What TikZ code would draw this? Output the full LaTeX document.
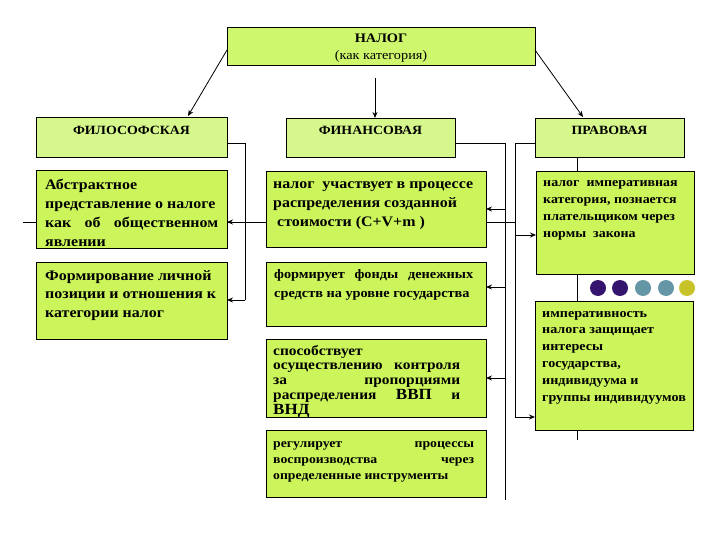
\documentclass[tikz,border=0pt]{standalone}
\usepackage{fontspec}
\setmainfont[FakeStretch=1.1]{Liberation Serif}
\usetikzlibrary{arrows.meta}
\definecolor{cfill}{RGB}{204,245,92}
\definecolor{hfill}{RGB}{214,247,140}
\definecolor{tfill}{RGB}{206,247,110}
\definecolor{dpurple}{RGB}{52,20,110}
\definecolor{dteal}{RGB}{100,150,165}
\definecolor{dyellow}{RGB}{200,195,40}
\begin{document}
\begin{tikzpicture}[x=1pt,y=-1pt,
  bx/.style={draw=black, line width=0.8pt, fill=cfill, anchor=north west, inner sep=0pt, outer sep=0pt},
  hb/.style={bx, fill=hfill},
  con/.style={line width=0.8pt},
  arr/.style={con, -{Stealth[length=6pt,width=5pt]}},
  txt/.style={anchor=base west, inner sep=0pt, font=\bfseries},
  htxt/.style={anchor=base, inner sep=0pt, font=\bfseries\fontsize{12.6}{14}\selectfont},
  dot/.style={circle, inner sep=0pt, minimum size=16pt}]
\useasboundingbox[fill=white] (0,0) rectangle (720,540);

% background lines
\coordinate (hl) at (23,222);
\coordinate (hr) at (515,222);
\coordinate (vt) at (577,157);
\coordinate (vb) at (577,440);
\draw[con] (hl) -- (hr);
\draw[con] (vt) -- (vb);

% boxes
\node[bx, fill=tfill, minimum width=308pt, minimum height=38pt] (top) at (227,27) {};
\node[hb, minimum width=191pt, minimum height=40pt] (phil) at (36,117) {};
\node[hb, minimum width=169pt, minimum height=39pt] (fin) at (286,118) {};
\node[hb, minimum width=149pt, minimum height=39pt] (prav) at (535,118) {};
\node[bx, minimum width=191pt, minimum height=78pt] (abs) at (36,170) {};
\node[bx, minimum width=191pt, minimum height=77pt] (form) at (36,262) {};
\node[bx, minimum width=220pt, minimum height=76pt] (f1) at (266,171) {};
\node[bx, minimum width=220pt, minimum height=64pt] (f2) at (266,262) {};
\node[bx, minimum width=220pt, minimum height=78pt] (f3) at (266,339) {};
\node[bx, minimum width=220pt, minimum height=67pt] (f4) at (266,430) {};
\node[bx, minimum width=158pt, minimum height=103pt] (r1) at (536,171) {};
\node[bx, minimum width=158pt, minimum height=129pt] (r2) at (535,301) {};

% dots
\node[dot, fill=dpurple] (d1) at (598,288) {};
\node[dot, fill=dpurple] (d2) at (620,288) {};
\node[dot, fill=dteal] (d3) at (643,288) {};
\node[dot, fill=dteal] (d4) at (666,288) {};
\node[dot, fill=dyellow] (d5) at (687,288) {};

% top arrows
\coordinate (tl) at (227,50);
\coordinate (tlend) at (188,116);
\coordinate (tc) at (375,78);
\coordinate (tcend) at (375,118);
\coordinate (tr) at (535,50);
\coordinate (trend) at (583,117);
\draw[arr] (tl) -- (tlend);
\draw[arr] (tc) -- (tcend);
\draw[arr] (tr) -- (trend);

% left bracket
\coordinate (lb) at (245,300);
\draw[con] (phil.east |- 0,143) -| (lb);
\draw[arr] (245,222) -- (abs.east |- 0,222);
\draw[arr] (lb) -- (form.east |- lb);

% middle bracket
\coordinate (mb) at (505,500);
\draw[con] (fin.east |- 0,143) -| (mb);
\draw[arr] (505,209) -- (f1.east |- 0,209);
\draw[arr] (505,287) -- (f2.east |- 0,287);
\draw[arr] (505,378) -- (f3.east |- 0,378);

% right bracket
\coordinate (rb) at (515,417);
\draw[con] (prav.west |- 0,143) -| (rb);
\draw[arr] (515,235) -- (r1.west |- 0,235);
\draw[arr] (rb) -- (r2.west |- rb);

% texts
\node[htxt, font=\bfseries\fontsize{13}{14}\selectfont] (ttop) at (381,42.5) {НАЛОГ};
\node[anchor=base, inner sep=0pt, font=\fontsize{13}{14}\selectfont] (ttop2) at (381,60) {(как категория)};
\node[htxt] (tphil) at (131.5,135) {ФИЛОСОФСКАЯ};
\node[htxt] (tfin) at (370.5,135) {ФИНАНСОВАЯ};
\node[htxt] (tprav) at (609.5,135) {ПРАВОВАЯ};

\node[txt] (tabs) at (45,190) {\parbox[t]{173pt}{\fontsize{14.5}{19}\selectfont
Абстрактное\\
представление о налоге\\
как\hfill об\hfill общественном\\
явлении}};

\node[txt] (tform) at (45,280) {\parbox[t]{173pt}{\fontsize{14.5}{18.5}\selectfont
Формирование личной\\
позиции и отношения к\\
категории налог}};

\node[txt] (tf1) at (273,189) {\parbox[t]{200pt}{\fontsize{14.5}{19}\selectfont
налог\ \ участвует в процессе\\
распределения созданной\\
\hspace*{4pt}стоимости (С+V+m )}};

\node[txt] (tf2) at (274,278) {\parbox[t]{199pt}{\fontsize{13}{19}\selectfont
формирует\hfill фонды\hfill денежных\\
средств на уровне государства}};

\node[txt] (tf3) at (273,355) {\parbox[t]{187pt}{\fontsize{14}{14.8}\selectfont
способствует\\
осуществлению\hfill контроля\\
за\hfill пропорциями\\
распределения\hfill {\fontsize{15.5}{15}\selectfont ВВП}\hfill и\\
{\fontsize{15.5}{15}\selectfont ВНД}}};

\node[txt] (tf4) at (273,447) {\parbox[t]{201pt}{\fontsize{12.5}{16}\selectfont
регулирует\hfill процессы\\
воспроизводства\hfill через\\
определенные инструменты}};

\node[txt] (tr1) at (543,187) {\parbox[t]{140pt}{\fontsize{12.7}{17}\selectfont
налог\ \ императивная\\
категория, познается\\
плательщиком через\\
нормы\ \ закона}};

\node[txt] (tr2) at (542,317) {\parbox[t]{150pt}{\fontsize{12.8}{16.8}\selectfont
императивность\\
налога защищает\\
интересы\\
государства,\\
индивидуума и\\
группы индивидуумов}};
\end{tikzpicture}
\end{document}
